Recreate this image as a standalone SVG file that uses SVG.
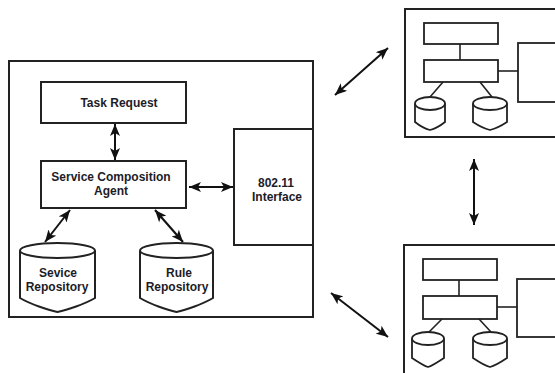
<svg xmlns="http://www.w3.org/2000/svg" width="555" height="373" viewBox="0 0 555 373">
<defs>
<marker id="ah" markerUnits="userSpaceOnUse" markerWidth="13" markerHeight="10" refX="12" refY="5" orient="auto-start-reverse" viewBox="0 0 13 10">
<path d="M0,0 L12,5 L0,10 L3,5 Z" fill="#111"/>
</marker>
</defs>
<style>
.box{fill:#fff;stroke:#222;stroke-width:2}
.sb{fill:#fff;stroke:#222;stroke-width:1.8}
.ln{fill:none;stroke:#222;stroke-width:1.6}
.ar{fill:none;stroke:#111;stroke-width:2;marker-start:url(#ah);marker-end:url(#ah)}
text{font-family:"Liberation Sans",Arial,sans-serif;font-weight:bold;font-size:12px;fill:#1c1c28;text-anchor:middle}
</style>
<rect width="555" height="373" fill="#fff"/>

<g id="main-node">
<rect class="box" x="9" y="61" width="304" height="256"/>
</g>
<g id="task-request">
<rect class="box" x="41" y="82" width="145" height="41"/>
<text x="119" y="107">Task Request</text>
</g>
<g id="service-composition-agent">
<rect class="box" x="41" y="161" width="145" height="47"/>
<text x="111" y="181">Service Composition</text>
<text x="111" y="195">Agent</text>
</g>
<g id="interface">
<rect class="box" x="234" y="129" width="79" height="116"/>
<text x="276" y="187">802.11</text>
<text x="277" y="201">Interface</text>
</g>
<g id="service-repository">
<path class="box" d="M20,250.5 L20,298 C30,304 48,310 57.5,312 C67,310 85,304 95,298 L95,250.5"/>
<ellipse class="box" cx="57.5" cy="250.5" rx="37.5" ry="7.5"/>
<text x="58" y="277">Sevice</text>
<text x="57" y="291">Repository</text>
</g>
<g id="rule-repository">
<path class="box" d="M140,250.5 L140,298 C150,304 167,310 176.5,312 C186,310 203,304 213,298 L213,250.5"/>
<ellipse class="box" cx="176.5" cy="250.5" rx="36.5" ry="7.5"/>
<text x="179" y="277">Rule</text>
<text x="177" y="291">Repository</text>
</g>

<g id="peer-top">
<rect class="box" x="405" y="9" width="170" height="128"/>
<rect class="sb" x="424" y="23" width="74" height="21"/>
<rect class="sb" x="424" y="60" width="74" height="22"/>
<rect class="sb" x="518" y="43" width="60" height="59"/>
<line class="ln" x1="460" y1="44" x2="460" y2="60"/>
<line class="ln" x1="498" y1="71" x2="518" y2="71"/>
<line class="ln" x1="443" y1="82" x2="430" y2="97"/>
<line class="ln" x1="480" y1="82" x2="492" y2="97"/>
<path class="sb" d="M415,103.5 L415,122 C420,126 426,129 430,130 C434,129 440,126 445,122 L445,103.5"/>
<ellipse class="sb" cx="430" cy="103.5" rx="15" ry="6.5"/>
<path class="sb" d="M473,103.5 L473,122 C479,126 486,129 490,130 C494,129 501,126 507,122 L507,103.5"/>
<ellipse class="sb" cx="490" cy="103.5" rx="17" ry="6.5"/>
</g>

<g id="peer-bottom">
<rect class="box" x="404" y="245" width="170" height="140"/>
<rect class="sb" x="423" y="259" width="74" height="21"/>
<rect class="sb" x="423" y="296" width="74" height="23"/>
<rect class="sb" x="517" y="279" width="60" height="58"/>
<line class="ln" x1="459" y1="280" x2="459" y2="296"/>
<line class="ln" x1="497" y1="307" x2="517" y2="307"/>
<line class="ln" x1="442" y1="319" x2="429" y2="332"/>
<line class="ln" x1="479" y1="319" x2="491" y2="332"/>
<path class="sb" d="M412,338.5 L412,358 C418,362 424,366 428,367 C432,366 438,362 444,358 L444,338.5"/>
<ellipse class="sb" cx="428" cy="338.5" rx="16" ry="6.5"/>
<path class="sb" d="M473,338.5 L473,358 C479,362 486,366 490,367 C494,366 501,362 507,358 L507,338.5"/>
<ellipse class="sb" cx="490" cy="338.5" rx="17" ry="6.5"/>
</g>

<g id="connectors">
<line class="ar" x1="115" y1="124" x2="115" y2="160"/>
<line class="ar" x1="189" y1="187" x2="233" y2="187"/>
<line class="ar" x1="70" y1="210" x2="45" y2="242"/>
<line class="ar" x1="155" y1="210" x2="183" y2="242"/>
<line class="ar" x1="335" y1="95" x2="388" y2="48"/>
<line class="ar" x1="331" y1="293" x2="388" y2="337"/>
<line class="ar" x1="474" y1="159" x2="474" y2="225"/>
</g>
</svg>
